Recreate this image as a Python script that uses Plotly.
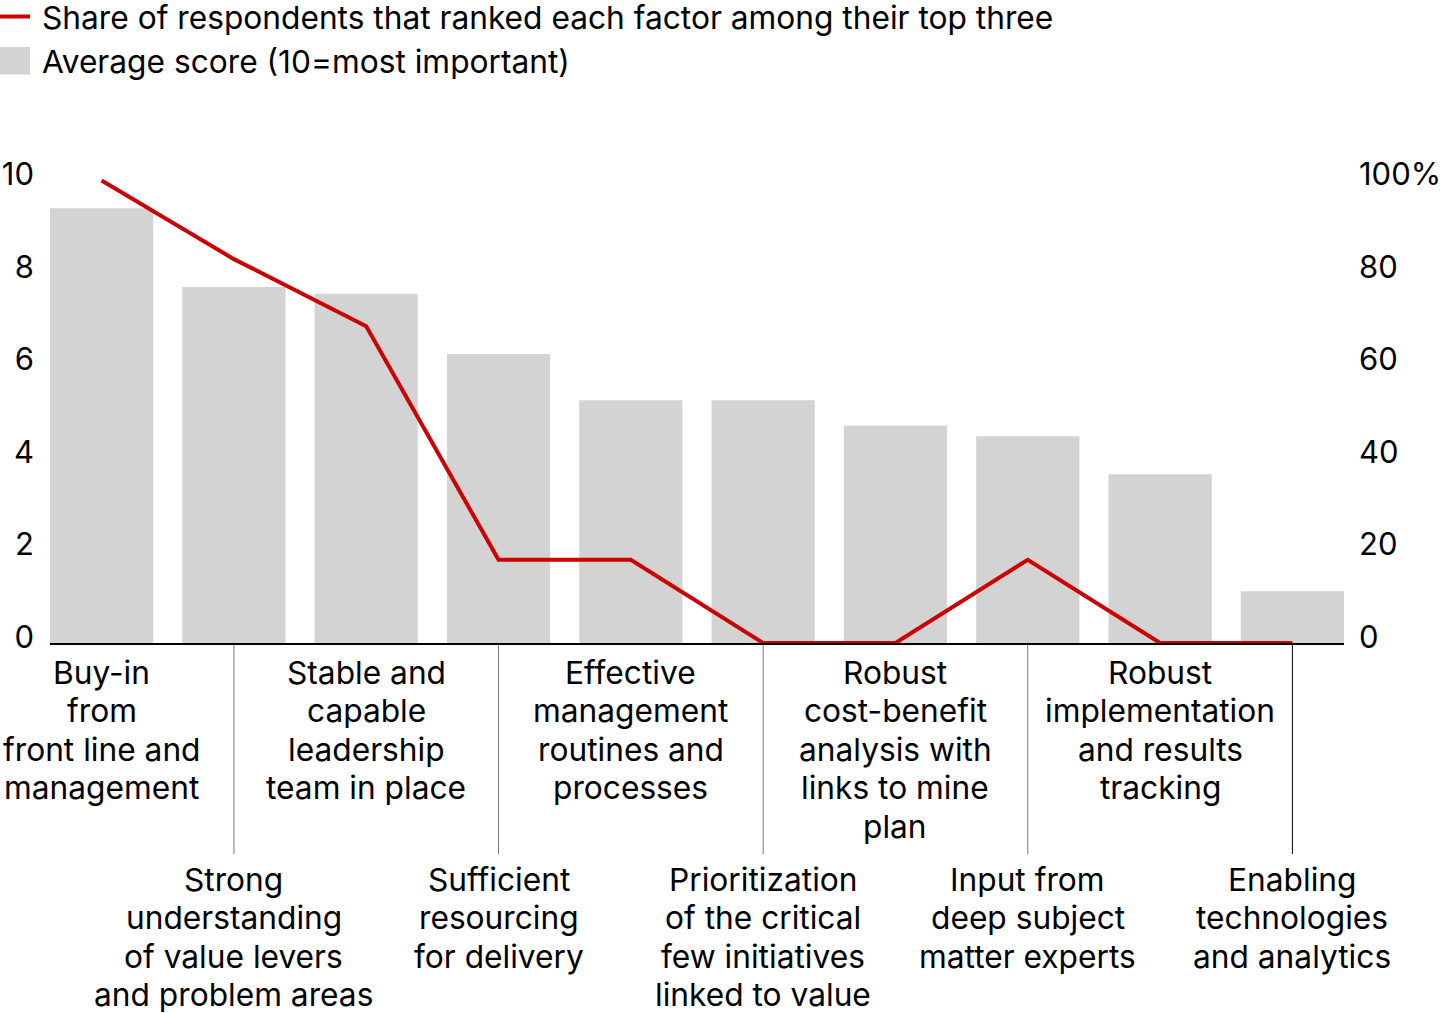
import plotly.graph_objects as go

categories = [
    ["Buy-in", "from", "front line and", "management"],
    ["Strong", "understanding", "of value levers", "and problem areas"],
    ["Stable and", "capable", "leadership", "team in place"],
    ["Sufficient", "resourcing", "for delivery"],
    ["Effective", "management", "routines and", "processes"],
    ["Prioritization", "of the critical", "few initiatives", "linked to value"],
    ["Robust", "cost-benefit", "analysis with", "links to mine", "plan"],
    ["Input from", "deep subject", "matter experts"],
    ["Robust", "implementation", "and results", "tracking"],
    ["Enabling", "technologies", "and analytics"],
]
avg_score = [9.4, 7.7, 7.55, 6.25, 5.25, 5.25, 4.7, 4.47, 3.65, 1.12]
top_three_share = [100, 83, 68.5, 18, 18, 0, 0, 18, 0, 0]
left_ticks = [0, 2, 4, 6, 8, 10]
right_ticks = [0, 20, 40, 60, 80, 100]
right_ticktext = ["0", "20", "40", "60", "80", "100%"]
legend_labels = ["Share of respondents that ranked each factor among their top three",
                 "Average score (10=most important)"]

FONT = "Inter"
FS = 31.7
W, H = 1440, 1013
L, R, T, B = 50, 96, 162, 370
PW = W - L - R
PH = H - T - B
ZERO_PY = H - B

def px_x(px):
    return (px - L) / PW

def px_y(py):
    return (ZERO_PY - py) / PH

x_idx = list(range(len(categories)))

fig = go.Figure()
fig.add_trace(go.Bar(
    x=x_idx, y=avg_score, marker=dict(color="#d3d3d3", line=dict(width=0)),
    width=0.78, showlegend=False, yaxis="y",
))
fig.add_trace(go.Scatter(
    x=x_idx, y=top_three_share, mode="lines",
    line=dict(color="#cc0000", width=4), showlegend=False, yaxis="y2",
))

shapes = []
annotations = []
tfont = dict(family=FONT, size=FS, color="#000")

# Legend
shapes.append(dict(type="line", xref="paper", yref="paper",
                   x0=px_x(0), x1=px_x(30), y0=px_y(16.5), y1=px_y(16.5),
                   line=dict(color="#cc0000", width=4)))
shapes.append(dict(type="rect", xref="paper", yref="paper",
                   x0=px_x(0), x1=px_x(30), y0=px_y(74.5), y1=px_y(47),
                   fillcolor="#d3d3d3", line=dict(width=0)))
for lab, cy in zip(legend_labels, [17.5, 61.5]):
    annotations.append(dict(text=lab, xref="paper", yref="paper",
                            x=px_x(40), y=px_y(cy), xanchor="left", yanchor="middle",
                            showarrow=False, font=tfont))

# Category labels, one annotation per line
LINE_H = 38.5
for i, lines in enumerate(categories):
    if i % 2 == 0:
        first = 672
    else:
        first = 879
        shapes.append(dict(type="line", xref="x", yref="paper",
                           x0=i, x1=i, y0=px_y(645), y1=px_y(854),
                           line=dict(color="#000" if i == len(categories) - 1 else "#777", width=1)))
    for k, ln in enumerate(lines):
        cy = first + k * LINE_H
        annotations.append(dict(text=ln, xref="x", yref="paper", x=i, y=0,
                                yshift=-(cy - ZERO_PY), xanchor="center", yanchor="middle",
                                align="center", showarrow=False, font=tfont))

fig.update_layout(
    width=W, height=H,
    margin=dict(l=L, r=R, t=T, b=B, autoexpand=False),
    paper_bgcolor="white", plot_bgcolor="white",
    bargap=0.22,
    shapes=shapes, annotations=annotations,
    xaxis=dict(type="linear", range=[-0.39, 9.39], showgrid=False, zeroline=False,
               showticklabels=False, showline=True, linecolor="#000", linewidth=2,
               ticks=""),
    yaxis=dict(range=[0, 10.4], tickvals=left_ticks, showgrid=False, zeroline=False,
               showline=False, ticks="", ticklabelstandoff=15, ticklabelshift=-6,
               tickfont=dict(family=FONT, size=31, color="#000")),
    yaxis2=dict(range=[0, 104], tickvals=right_ticks, ticktext=right_ticktext,
                overlaying="y", side="right", showgrid=False, zeroline=False,
                showline=False, ticks="", ticklabelstandoff=14, ticklabelshift=-6,
                tickfont=dict(family=FONT, size=31, color="#000")),
    font=dict(family=FONT, size=FS, color="#000"),
)

fig.write_html("out.html", config={"displayModeBar": False},
               post_script="document.body.style.margin='0';document.body.style.overflow='hidden';")
